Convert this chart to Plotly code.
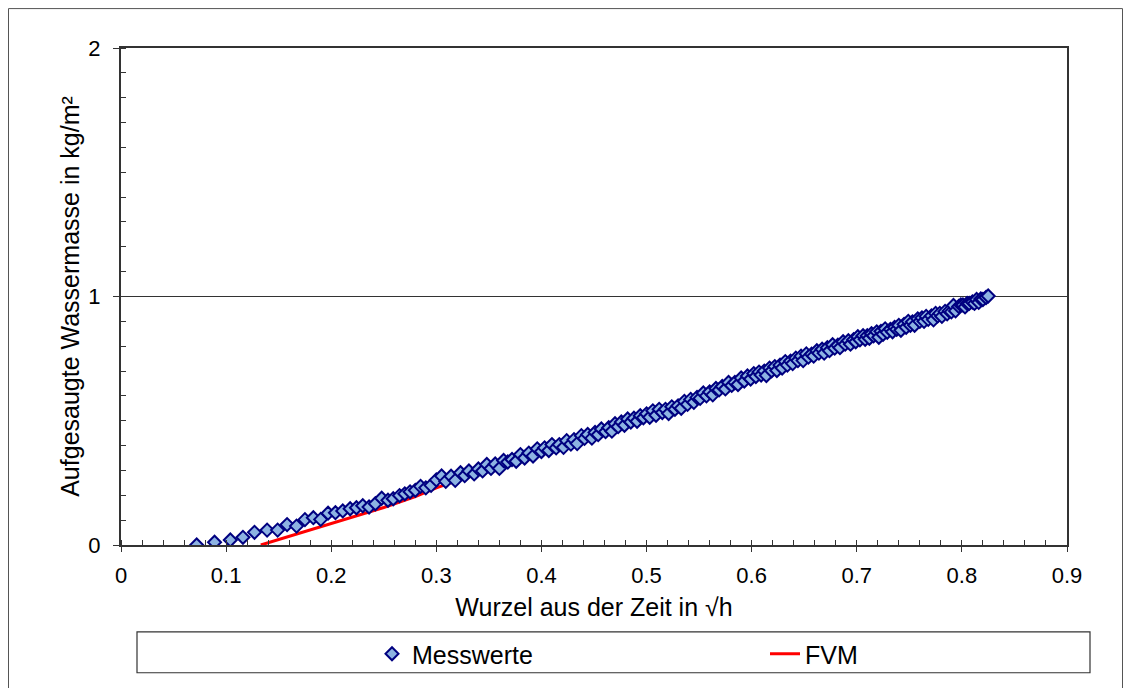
import plotly.graph_objects as go

# ---- data ----
mess_x = [
    0.072, 0.089, 0.104, 0.116, 0.127, 0.139, 0.149, 0.158, 0.167, 0.175, 0.183, 0.190, 0.197,
    0.204, 0.211, 0.218, 0.224, 0.230, 0.236, 0.242, 0.248, 0.254, 0.259, 0.265, 0.270, 0.275, 0.280, 0.285, 0.290, 0.295, 0.300,
    0.305, 0.309, 0.314, 0.318, 0.323, 0.327, 0.331, 0.336, 0.340, 0.344, 0.348, 0.352, 0.356, 0.360, 0.364, 0.368, 0.372, 0.376, 0.380, 0.384, 0.388, 0.392, 0.396, 0.400,
    0.403, 0.407, 0.410, 0.414, 0.417, 0.421, 0.424, 0.428, 0.431, 0.434, 0.438, 0.441, 0.444, 0.448, 0.451, 0.454, 0.457, 0.461, 0.464, 0.467, 0.470, 0.473, 0.476, 0.479, 0.482, 0.485, 0.488, 0.491, 0.494, 0.497, 0.500,
    0.503, 0.506, 0.509, 0.512, 0.515, 0.518, 0.521, 0.524, 0.527, 0.530, 0.533, 0.536, 0.539, 0.542, 0.545, 0.548, 0.551, 0.554, 0.557, 0.560, 0.563, 0.566, 0.569, 0.572, 0.575, 0.578, 0.581, 0.584, 0.587, 0.590, 0.593, 0.596, 0.599,
    0.602, 0.604, 0.607, 0.609, 0.612, 0.614, 0.617, 0.619, 0.622, 0.624, 0.627, 0.629, 0.632, 0.634, 0.637, 0.639, 0.642, 0.644, 0.647, 0.649,
    0.652, 0.654, 0.657, 0.659, 0.662, 0.664, 0.667, 0.669, 0.672, 0.674, 0.677, 0.679, 0.682, 0.684, 0.687, 0.689, 0.692, 0.694, 0.697, 0.699,
    0.701, 0.703, 0.706, 0.708, 0.710, 0.712, 0.714, 0.716, 0.719, 0.721, 0.723, 0.725, 0.727, 0.729, 0.732, 0.734, 0.736, 0.738, 0.740, 0.742,
    0.745, 0.747, 0.749, 0.751, 0.753, 0.755, 0.758, 0.760, 0.762, 0.764, 0.766, 0.768, 0.771, 0.773, 0.775, 0.777, 0.779, 0.781, 0.784, 0.786,
    0.788, 0.790, 0.792, 0.794, 0.797, 0.799, 0.801, 0.803, 0.805, 0.807, 0.810, 0.812, 0.814, 0.816, 0.818, 0.820, 0.823, 0.825,
]
mess_y = [
    0.000, 0.011, 0.020, 0.031, 0.051, 0.060, 0.060, 0.082, 0.076, 0.102, 0.110, 0.103, 0.128,
    0.130, 0.137, 0.146, 0.150, 0.158, 0.153, 0.166, 0.188, 0.180, 0.186, 0.199, 0.206, 0.214, 0.220, 0.236, 0.230, 0.240, 0.262,
    0.278, 0.256, 0.277, 0.260, 0.291, 0.279, 0.298, 0.286, 0.306, 0.298, 0.324, 0.308, 0.326, 0.308, 0.340, 0.334, 0.344, 0.337, 0.364, 0.350, 0.370, 0.358, 0.387, 0.376,
    0.391, 0.380, 0.404, 0.391, 0.404, 0.393, 0.420, 0.406, 0.424, 0.408, 0.440, 0.429, 0.445, 0.430, 0.453, 0.444, 0.467, 0.456, 0.472, 0.458, 0.488, 0.476, 0.495, 0.482, 0.507, 0.495, 0.510, 0.498, 0.520, 0.512, 0.528,
    0.514, 0.540, 0.522, 0.546, 0.533, 0.546, 0.529, 0.556, 0.546, 0.560, 0.550, 0.578, 0.566, 0.586, 0.574, 0.594, 0.590, 0.612, 0.600, 0.616, 0.604, 0.630, 0.624, 0.638, 0.628, 0.654, 0.642, 0.654, 0.646, 0.672, 0.660, 0.680, 0.668,
    0.690, 0.678, 0.696, 0.684, 0.700, 0.682, 0.712, 0.701, 0.718, 0.702, 0.724, 0.712, 0.738, 0.724, 0.740, 0.730, 0.752, 0.742, 0.760, 0.742,
    0.769, 0.756, 0.768, 0.760, 0.782, 0.772, 0.788, 0.772, 0.794, 0.782, 0.806, 0.792, 0.804, 0.794, 0.818, 0.808, 0.822, 0.808, 0.826, 0.818,
    0.838, 0.826, 0.842, 0.828, 0.842, 0.832, 0.850, 0.842, 0.858, 0.836, 0.860, 0.848, 0.870, 0.856, 0.868, 0.858, 0.876, 0.868, 0.884, 0.864,
    0.888, 0.876, 0.900, 0.884, 0.898, 0.884, 0.910, 0.900, 0.914, 0.900, 0.920, 0.908, 0.922, 0.906, 0.932, 0.922, 0.932, 0.920, 0.940, 0.930,
    0.942, 0.938, 0.964, 0.942, 0.960, 0.966, 0.966, 0.958, 0.972, 0.972, 0.978, 0.972, 0.988, 0.976, 0.990, 0.988, 0.996, 1.002,
]
fvm_x = [0.133, 0.160, 0.200, 0.250, 0.280, 0.300, 0.400, 0.500, 0.600, 0.700, 0.800, 0.825]
fvm_y = [0.000, 0.035, 0.088, 0.151, 0.195, 0.230, 0.378, 0.515, 0.675, 0.820, 0.955, 0.990]

x_title = "Wurzel aus der Zeit in √h"
y_title = "Aufgesaugte Wassermasse in kg/m²"

n = min(len(mess_x), len(mess_y))
mess_x, mess_y = mess_x[:n], mess_y[:n]

FONT = "Liberation Sans, Arial, sans-serif"
AX = "#333333"

fig = go.Figure()
fig.add_trace(go.Scatter(
    x=fvm_x, y=fvm_y, mode="lines", name="FVM",
    line=dict(color="#FF0000", width=3), legend="legend2",
))
fig.add_trace(go.Scatter(
    x=mess_x, y=mess_y, mode="markers", name="Messwerte",
    marker=dict(symbol="diamond", size=10, color="#8DB3E2",
                line=dict(color="#000080", width=2)),
    legend="legend",
))

W, H = 1115, 680
L, R, T, B = 113, 56, 40, 142
pw, ph = W - L - R, H - T - B

def px(fx):
    return (fx - L) / pw

def py(fy):
    return (H - B - fy) / ph

fig.update_layout(
    width=W, height=H,
    margin=dict(l=L, r=R, t=T, b=B, pad=0),
    paper_bgcolor="white", plot_bgcolor="white",
    font=dict(family=FONT, size=22, color="black"),
    showlegend=True,
    legend=dict(x=px(364), y=py(646), xanchor="left", yanchor="middle",
                orientation="h", bgcolor="rgba(0,0,0,0)", borderwidth=0,
                font=dict(size=25, family=FONT, color="black")),
    legend2=dict(x=px(757), y=py(646), xanchor="left", yanchor="middle",
                 orientation="h", bgcolor="rgba(0,0,0,0)", borderwidth=0,
                 font=dict(size=25, family=FONT, color="black")),
    xaxis=dict(
        range=[0, 0.9], dtick=0.1, tick0=0,
        showline=True, linecolor=AX, linewidth=2, mirror=True,
        ticks="outside", ticklen=5, tickwidth=1, tickcolor=AX,
        minor=dict(dtick=0.02, ticks="inside", ticklen=5, tickcolor=AX, tickwidth=1, showgrid=False),
        showgrid=False, zeroline=False,
        tickfont=dict(size=22, family=FONT, color="black"),
        ticklabelstandoff=5,
        title=dict(text=x_title, font=dict(size=25, family=FONT, color="black"), standoff=11),
    ),
    yaxis=dict(
        range=[0, 2], dtick=1, tick0=0,
        showline=True, linecolor=AX, linewidth=2, mirror=True,
        ticks="outside", ticklen=6, tickwidth=1, tickcolor=AX,
        minor=dict(dtick=0.1, ticks="inside", ticklen=5, tickcolor=AX, tickwidth=1, showgrid=False),
        showgrid=True, gridcolor=AX, gridwidth=1, zeroline=False,
        tickfont=dict(size=22, family=FONT, color="black"),
        ticklabelstandoff=8,
        title=dict(text=y_title, font=dict(size=25, family=FONT, color="black"), standoff=2),
    ),
    shapes=[
        # outer chart border
        dict(type="rect", xref="paper", yref="paper",
             x0=px(0.5), x1=px(W - 0.5), y0=py(H + 200), y1=py(0.5),
             line=dict(color="#555555", width=1), fillcolor="rgba(0,0,0,0)", layer="below"),
        # legend box
        dict(type="rect", xref="paper", yref="paper",
             x0=px(129), x1=px(1082), y0=py(666), y1=py(625),
             line=dict(color="#333333", width=1.2), fillcolor="rgba(0,0,0,0)"),
    ],
)

fig.write_html("out.html")
